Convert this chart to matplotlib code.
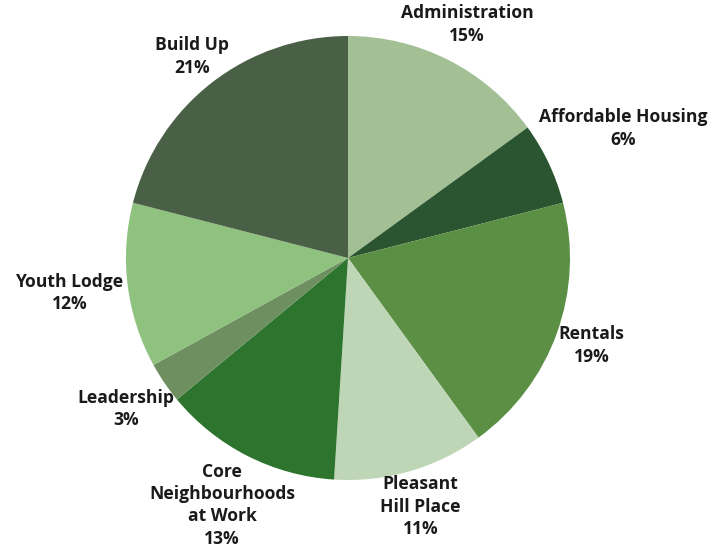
import numpy as np
import matplotlib
matplotlib.use("Agg")
import matplotlib.pyplot as plt

categories = ["Administration", "Affordable Housing", "Rentals", "Pleasant\nHill Place",
              "Core\nNeighbourhoods\nat Work", "Leadership", "Youth Lodge", "Build Up"]
values = [15, 6, 19, 11, 13, 3, 12, 21]
colors = ["#a3c095", "#2b5530", "#5b8f44", "#bed6b5", "#2d752e", "#6e8f60", "#8ec27e", "#4a6046"]

W, H = 712, 550
fig = plt.figure(figsize=(W / 100, H / 100), dpi=100)
ax = fig.add_axes([0, 0, 1, 1])
cx, cy, R = 348, H - 258, 222
wedges, _ = ax.pie(values, colors=colors, startangle=90, counterclock=False,
                   center=(cx, cy), radius=R, frame=True,
                   wedgeprops=dict(linewidth=0))
ax.set_xlim(0, W)
ax.set_ylim(0, H)
ax.set_aspect("equal")
ax.axis("off")

fig.canvas.draw()
renderer = fig.canvas.get_renderer()
total = sum(values)
start = 90.0
gap_r = 227
for cat, v in zip(categories, values):
    sweep = 360.0 * v / total
    mid = np.deg2rad(start - sweep / 2)
    start -= sweep
    t = ax.text(cx, cy, f"{cat}\n{v}%", ha="center", va="center",
                fontsize=12.6, fontweight="bold", family="Open Sans", color="#1a1a1a",
                linespacing=1.32, multialignment="center")
    bb = t.get_window_extent(renderer)
    w2, h2 = bb.width / 2, bb.height / 2
    ux, uy = np.cos(mid), np.sin(mid)
    D = gap_r + np.hypot(ux * w2, uy * h2)
    t.set_position((cx + D * ux, cy + D * uy))

fig.savefig("out.png", dpi=100)
